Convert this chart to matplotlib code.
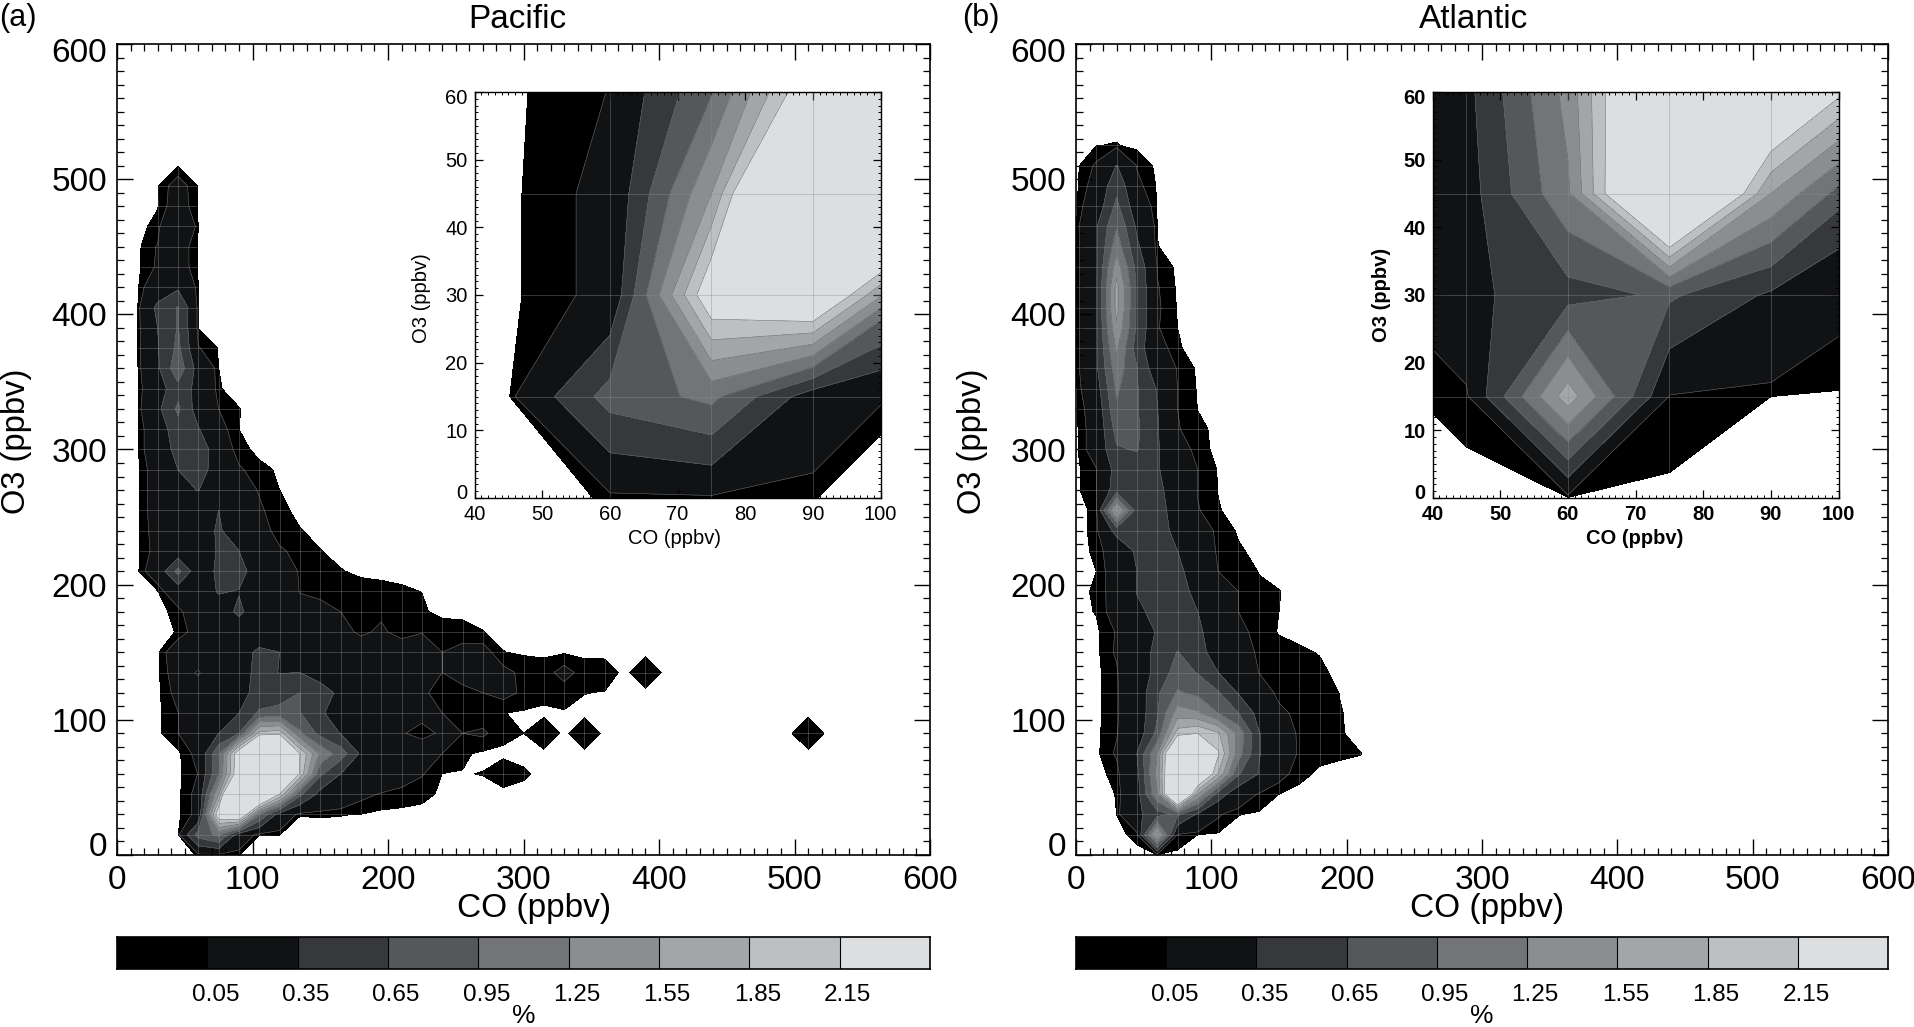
import numpy as np
import matplotlib
matplotlib.use('Agg')
import matplotlib.pyplot as plt
from matplotlib.collections import LineCollection
from matplotlib.colors import ListedColormap
from matplotlib.path import Path
from matplotlib.ticker import MultipleLocator
from matplotlib.transforms import ScaledTranslation

plt.rcParams['font.family'] = ['Liberation Sans', 'DejaVu Sans']

W, H = 1915, 1027

# frequency (%) on the 15 ppbv grid, rows y = 0, 15, 30 ..., columns x = 0, 15, 30 ...
pacific_rows = [
    [0, 0, 0, 0, .012, .025, .0105],
    [0, 0, 0, 0, .77, 1.03, .17, .0105, .0102],
    [0, 0, 0, 0, .075, 2.5, 2.85, .97, .2, .011, .012, .011, .009],
    [0, 0, 0, 0, .075, 1.55, 4.4, 3.5, 2.15, .72, .25, .15, .07, .045, .03, .019, .005],
    [0, 0, 0, 0, .052, .92, 2.55, 4, 3.5, 2.1, .7, .35, .18, .12, .09, .055, .0095, .0085, .011, .03, .015],
    [0, 0, 0, 0, .075, .88, 2.5, 4.5, 4.5, 2.15, 1.2, .8, .3, .15, .12, .1, .05, .016, .003, .003, 0],
    [0, 0, 0, .048, .15, .35, .65, 1.95, 2.05, 1.0, .55, .34, .12, .1, .055, .03, .06, .05, .06, .02, .01, .045, 0, .045,
     0, 0, 0, 0, 0, 0, 0, 0, 0, 0, .045],
    [0, 0, 0, .048, .15, .17, .35, .7, .72, .66, .4, .17, .12, .1, .08, .07, .05, .03, .02, .011, .005, 0, .008, 0],
    [0, 0, 0, .075, .1, .15, .28, .42, .55, .65, .45, .3, .1, .09, .07, .06, .03, .03, .05, .07, .04, .025, .02, .011, .008],
    [0, 0, 0, .1, .04, .15, .2, .45, .34, .35, .25, .12, .1, .1, .09, .085, .05, .08, .09, .07, .035, .025, .075, .025, .03, 0, .045],
    [0, 0, .002, .12, .12, .14, .2, .42, .35, .15, .12, .1, .09, .08, .09, .08, .05, .07, .08, .011, .005, .004, .005, .003],
    [0, 0, 0, .012, .09, .1, .12, .12, .1, .1, .09, .07, .04, .06, .03, .048, .03, .025, .011],
    [0, 0, 0, .02, .15, .15, .42, .12, .1, .07, .065, .05, .03, .04, .03, .015, 0],
    [0, 0, .006, .15, .12, .38, .33, .12, .09, .048, .04, .03, .025, .022, .015, .0095],
    [0, 0, .13, .74, .12, .42, .5, .12, .09, .045, .035, .012, .003],
    [0, 0, .08, .14, .15, .38, .35, .12, .055, .04, .011],
    [0, 0, .09, .14, .14, .4, .12, .07, .035, .012],
    [0, 0, .1, .17, .15, .35, .1, .06, .02, 0],
    [0, 0, .1, .25, .36, .1, .09, .045, .01],
    [0, 0, .1, .35, .55, .13, .06, .02, .005],
    [0, 0, .15, .45, .6, .12, .022],
    [0, 0, .15, .55, .37, .08, .01],
    [0, 0, .28, .7, .2, .05, .011],
    [0, 0, .2, .55, .25, .012],
    [0, 0, .3, .85, .22, .01],
    [0, 0, .33, .72, .055, .007],
    [0, 0, .35, .67, .008],
    [0, 0, .42, .67, .009],
    [0, 0, .15, .3, .007],
    [0, 0, .06, .1, .008],
    [0, 0, .055, .1, .007],
    [0, 0, .02, .3, .008],
    [0, 0, .008, .1, .006],
    [0, 0, .005, .09, .006],
    [0, 0, 0, .006],
]

atlantic_rows = [
    [0, 0, 0, 0, 0, 0],
    [0, 0, 0, .02, 1.72, .04, .01, .005],
    [0, 0, .01, .28, .53, .7, .3, .06, .011, .005],
    [0, 0, .011, .21, 1.2, 3.8, 1.55, .5, .14, .04, .01],
    [0, 0, .02, .26, 1.35, 3.5, 3.0, 1.85, .68, .34, .08, .02, .004],
    [0, 0, .06, .35, 1.25, 3.5, 4, 2.2, 1.1, .37, .12, .04, .02, .015, .011],
    [0, 0, .045, .15, .72, 2.0, 2.15, 1.9, 1.15, .37, .1, .04, .03, .013, 0],
    [0, 0, .04, .13, .62, 1.4, 1.3, .95, .65, .25, .06, .04, .025, .012],
    [0, 0, .04, .14, .6, .98, .88, .68, .33, .08, .04, .035, .03, .009],
    [0, 0, .04, .2, .42, .8, .63, .35, .15, .05, .035, .03, .018],
    [0, 0, .06, .2, .42, .66, .45, .22, .09, .04, .03, .016, .008],
    [0, .002, .055, .2, .37, .45, .4, .2, .06, .04, .006],
    [0, .012, .09, .3, .42, .42, .35, .13, .05, .04, .01],
    [0, .015, .09, .36, .42, .42, .3, .1, .05, .02, .011],
    [0, .01, .1, .35, .45, .42, .2, .05, .04, .008],
    [0, .015, .12, .4, .45, .35, .12, .04, .015],
    [0, .018, .45, .42, .5, .25, .1, .035, .005],
    [0, .017, 1.7, .5, .55, .12, .055, .012, 0],
    [0, .05, .5, .45, .42, .2, .045, .009],
    [0, .045, .45, .5, .38, .15, .05, .007],
    [0, .1, .62, .67, .38, .1, .025],
    [0, .1, .75, .7, .37, .055, .02],
    [0, .12, .9, .67, .36, .05, .009],
    [0, .2, 1.0, .67, .33, .05, .006],
    [0, .3, 1.12, .66, .13, .045, .003],
    [0, .3, 1.3, .5, .09, .013],
    [0, .3, 1.5, .6, .055, .01],
    [0, .3, 1.65, .6, .06, .007],
    [0, .3, 1.65, .6, .055, .004],
    [0, .3, 1.42, .55, .045],
    [0, .3, 1.12, .4, .011],
    [0, .32, .93, .3, .009],
    [0, .15, .72, .15, .007],
    [0, .09, .56, .07, .005],
    [0, .06, .36, .045],
    [0, .009, .012],
]

grid_step = 15
levels = [.01, .05, .35, .65, .95, 1.25, 1.55, 1.85, 2.15, 100]
greys = ['#000000', '#111214', '#36383b', '#55585b', '#727478',
         '#8b8e91', '#a3a6a9', '#bdc0c2', '#dddee0']
cbar_labels = ['0.05', '0.35', '0.65', '0.95', '1.25', '1.55', '1.85', '2.15']
main_ticks = [0, 100, 200, 300, 400, 500, 600]
inset_xticks = [40, 50, 60, 70, 80, 90, 100]
inset_yticks = [0, 10, 20, 30, 40, 50, 60]


def to_grid(rows):
    """short rows and missing rows are zero"""
    z = np.zeros((41, 41))
    for j, row in enumerate(rows):
        z[j, :len(row)] = row
    return z


def px_axes(fig, left, top, right, bottom):
    return fig.add_axes([left / W, 1 - bottom / H, (right - left) / W, (bottom - top) / H])


def put(fig, x, y, s, size, **kw):
    fig.text(x / W, 1 - y / H, s, fontsize=size, ha='center', va='center', **kw)


def shift_labels(ax, fig, down_top, up_bottom):
    # end labels are pulled inside the axis range
    labs = ax.get_yticklabels()
    top = ScaledTranslation(0, -down_top / fig.dpi, fig.dpi_scale_trans)
    bot = ScaledTranslation(0, up_bottom / fig.dpi, fig.dpi_scale_trans)
    labs[-1].set_transform(labs[-1].get_transform() + top)
    labs[0].set_transform(labs[0].get_transform() + bot)


def draw_field(ax, z):
    x = np.arange(41) * grid_step
    y = np.arange(41) * grid_step
    cs = ax.contourf(x, y, z, levels=levels, colors=greys)
    ax.contour(x, y, z, levels=levels[1:-1], colors='#626466', linewidths=0.4)
    # seams of the plotting grid, only visible inside the filled area
    segs = [[(v, 0), (v, 600)] for v in x] + [[(0, v), (600, v)] for v in y]
    lines = LineCollection(segs, colors='#8c8c8c', linewidths=0.7, alpha=0.4, zorder=2)
    ax.add_collection(lines)
    lines.set_clip_path(Path.make_compound_path(*cs.get_paths()), ax.transData)


def main_panel(fig, left, right, z, title, tag, tag_x, title_x, ylabel_x, xlabel_x):
    ax = px_axes(fig, left, 44, right, 855)
    draw_field(ax, z)
    ax.set_xlim(0, 600)
    ax.set_ylim(0, 600)
    ax.set_xticks(main_ticks)
    ax.set_yticks(main_ticks)
    ax.xaxis.set_minor_locator(MultipleLocator(10))
    ax.yaxis.set_minor_locator(MultipleLocator(10))
    ax.tick_params(which='major', direction='in', top=True, right=True, length=11.5, width=1.0,
                   labelsize=24, pad=7)
    ax.tick_params(which='minor', direction='in', top=True, right=True, length=5, width=0.9)
    for s in ax.spines.values():
        s.set_linewidth(1.2)
    shift_labels(ax, fig, 6, 11)
    center = (left + right) / 2
    put(fig, xlabel_x, 909, 'CO (ppbv)', 24)
    put(fig, ylabel_x, 441, 'O3 (ppbv)', 23.5, rotation=90)
    put(fig, title_x, 20, title, 24)
    put(fig, tag_x, 18, tag, 22)

    cax = px_axes(fig, left, 937, right, 969)
    cax.pcolormesh(np.arange(10), [0, 1], [np.arange(9)], cmap=ListedColormap(greys),
                   edgecolors='face', linewidth=0)
    cax.vlines(np.arange(1, 9), 0, 1, color='black', linewidth=0.8)
    cax.set_xticks(np.arange(1, 9) + 0.09)
    cax.set_xticklabels(cbar_labels)
    cax.set_yticks([])
    cax.tick_params(axis='x', length=0, labelsize=17.5, pad=11)
    for s in cax.spines.values():
        s.set_linewidth(1.2)
    put(fig, center, 1016, '%', 19)


def inset_panel(fig, left, right, z, weight, ylabel_x, ylabel_y, xlabel_x):
    ax = px_axes(fig, left, 92, right, 498)
    ax.set_facecolor('white')
    draw_field(ax, z)
    ax.set_xlim(40, 100)
    ax.set_ylim(0, 60)
    ax.set_xticks(inset_xticks)
    ax.set_yticks(inset_yticks)
    ax.xaxis.set_minor_locator(MultipleLocator(1))
    ax.yaxis.set_minor_locator(MultipleLocator(1))
    ax.tick_params(which='major', direction='in', top=True, right=True, length=5.5, width=0.9,
                   labelsize=14.5, pad=5)
    ax.tick_params(which='minor', direction='in', top=True, right=True, length=2.5, width=0.7)
    for lab in ax.get_xticklabels() + ax.get_yticklabels():
        lab.set_fontweight(weight)
    for s in ax.spines.values():
        s.set_linewidth(1.0)
    shift_labels(ax, fig, 4, 7)
    put(fig, xlabel_x, 539, 'CO (ppbv)', 14.5, fontweight=weight)
    put(fig, ylabel_x, ylabel_y, 'O3 (ppbv)', 14.5, rotation=90, fontweight=weight)


fig = plt.figure(figsize=(W / 100, H / 100), dpi=100)

z_pacific = to_grid(pacific_rows)
z_atlantic = to_grid(atlantic_rows)

main_panel(fig, 117, 930, z_pacific, 'Pacific', '(a)', 18, 517, 17, 534)
inset_panel(fig, 474.6, 880.6, z_pacific, 'normal', 422, 298, 675)
main_panel(fig, 1076, 1888, z_atlantic, 'Atlantic', '(b)', 981, 1474, 973, 1487)
inset_panel(fig, 1432.6, 1838.6, z_atlantic, 'bold', 1382, 295, 1635)

fig.savefig('out.png', dpi=100)
plt.close(fig)
